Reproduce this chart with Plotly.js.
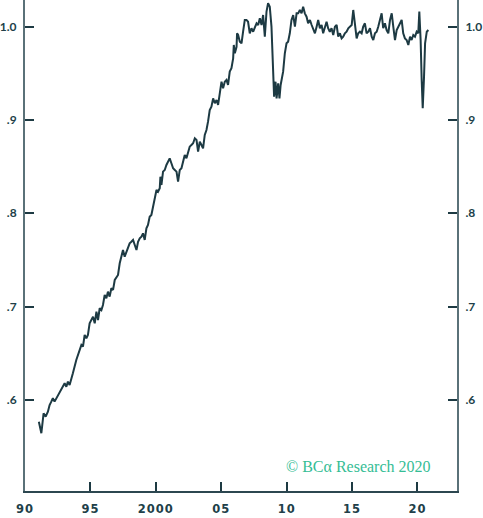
<!DOCTYPE html>
<html>
<head>
<meta charset="utf-8">
<script src="https://cdn.plot.ly/plotly-3.0.1.min.js"></script>
<style>
html,body{margin:0;padding:0;background:#fff;}
#chart{width:483px;height:518px;}
.xtick text{letter-spacing:1px;}
</style>
</head>
<body>
<div id="chart"></div>
<script>
const years = [1991.06,1991.25,1991.42,1991.58,1991.75,1991.88,1992.01,1992.13,1992.26,1992.52,1992.65,1992.78,1992.90,1993.03,1993.16,1993.28,1993.41,1993.54,1993.66,1993.92,1994.05,1994.18,1994.31,1994.43,1994.56,1994.69,1994.81,1994.94,1995.07,1995.20,1995.33,1995.46,1995.58,1995.71,1995.84,1995.96,1996.09,1996.22,1996.34,1996.47,1996.60,1996.73,1996.86,1996.99,1997.11,1997.24,1997.37,1997.49,1997.62,1997.75,1997.87,1998.00,1998.13,1998.26,1998.39,1998.52,1998.64,1998.77,1998.90,1999.02,1999.15,1999.28,1999.40,1999.53,1999.66,1999.79,1999.92,2000.05,2000.17,2000.30,2000.35,2000.43,2000.55,2000.68,2000.81,2000.93,2001.06,2001.19,2001.32,2001.45,2001.58,2001.70,2001.83,2001.96,2002.08,2002.21,2002.34,2002.46,2002.59,2002.72,2002.85,2002.98,2003.11,2003.23,2003.36,2003.49,2003.61,2003.74,2003.87,2003.99,2004.12,2004.25,2004.38,2004.51,2004.64,2004.76,2004.89,2005.02,2005.14,2005.27,2005.40,2005.52,2005.65,2005.78,2005.91,2005.96,2006.04,2006.17,2006.21,2006.29,2006.42,2006.55,2006.67,2006.80,2006.93,2007.05,2007.18,2007.31,2007.44,2007.57,2007.70,2007.82,2007.95,2008.08,2008.20,2008.33,2008.46,2008.58,2008.71,2008.84,2008.97,2009.04,2009.15,2009.23,2009.35,2009.45,2009.54,2009.61,2009.73,2009.86,2009.99,2010.11,2010.24,2010.37,2010.50,2010.63,2010.76,2010.88,2011.01,2011.14,2011.26,2011.39,2011.52,2011.64,2011.78,2011.91,2012.03,2012.16,2012.29,2012.41,2012.54,2012.67,2012.79,2012.92,2013.05,2013.17,2013.30,2013.43,2013.56,2013.69,2013.82,2013.94,2014.07,2014.20,2014.32,2014.45,2014.58,2014.71,2014.84,2014.97,2015.09,2015.22,2015.35,2015.47,2015.60,2015.73,2015.85,2015.98,2016.11,2016.24,2016.37,2016.50,2016.62,2016.75,2016.88,2017.00,2017.13,2017.26,2017.38,2017.51,2017.64,2017.77,2017.90,2018.03,2018.15,2018.28,2018.41,2018.53,2018.66,2018.79,2018.91,2019.04,2019.17,2019.30,2019.43,2019.55,2019.68,2019.81,2019.94,2020.06,2020.14,2020.24,2020.32,2020.40,2020.50,2020.58,2020.71,2020.83];
const values = [0.5766,0.5642,0.5856,0.5820,0.5873,0.5945,0.5981,0.6017,0.5981,0.6052,0.6088,0.6124,0.6160,0.6178,0.6141,0.6195,0.6160,0.6213,0.6285,0.6428,0.6481,0.6535,0.6588,0.6570,0.6695,0.6660,0.6695,0.6821,0.6856,0.6892,0.6821,0.6945,0.6856,0.6982,0.6963,0.7017,0.7124,0.7089,0.7160,0.7106,0.7196,0.7178,0.7285,0.7320,0.7339,0.7464,0.7535,0.7606,0.7535,0.7588,0.7625,0.7678,0.7695,0.7714,0.7660,0.7606,0.7695,0.7732,0.7749,0.7785,0.7714,0.7839,0.7874,0.7963,0.7982,0.8071,0.8161,0.8250,0.8231,0.8268,0.8392,0.8303,0.8446,0.8464,0.8518,0.8553,0.8589,0.8536,0.8482,0.8464,0.8446,0.8339,0.8464,0.8482,0.8553,0.8625,0.8589,0.8660,0.8714,0.8732,0.8750,0.8804,0.8785,0.8660,0.8767,0.8732,0.8696,0.8839,0.8893,0.8982,0.9107,0.9142,0.9232,0.9179,0.9214,0.9161,0.9303,0.9410,0.9340,0.9410,0.9429,0.9375,0.9518,0.9554,0.9661,0.9804,0.9715,0.9785,0.9929,0.9911,0.9839,0.9822,0.9946,1.0072,1.0072,1.0053,0.9929,0.9983,0.9946,1.0000,1.0036,1.0018,1.0090,1.0018,1.0125,0.9893,1.0161,1.0251,1.0214,1.0000,0.9571,0.9250,0.9410,0.9232,0.9393,0.9232,0.9375,0.9429,0.9518,0.9715,0.9822,0.9839,0.9929,1.0072,1.0125,1.0000,1.0143,1.0143,1.0179,1.0143,1.0214,1.0143,1.0107,1.0036,1.0072,1.0018,0.9964,0.9929,1.0000,1.0072,0.9983,1.0018,0.9929,1.0000,1.0053,0.9983,0.9946,0.9983,0.9911,1.0000,1.0018,0.9893,0.9929,0.9875,0.9893,0.9929,0.9946,0.9983,1.0000,1.0018,1.0179,1.0000,0.9875,0.9929,0.9946,0.9929,1.0000,1.0036,0.9929,0.9946,0.9983,0.9893,0.9857,0.9929,0.9946,1.0000,1.0072,1.0143,0.9983,1.0036,0.9964,0.9929,1.0072,1.0143,1.0000,0.9857,0.9964,1.0000,1.0036,1.0072,0.9929,0.9875,0.9857,0.9804,0.9893,0.9857,0.9911,0.9893,0.9946,0.9929,1.0161,0.9857,0.9429,0.9125,0.9464,0.9822,0.9946,0.9964];

const xTickVals = [1990,1995,2000,2005,2010,2015,2020];
const xTickText = ['90','95','2000','05','10','15','20'];
const yTickVals = [0.6,0.7,0.8,0.9,1.0];
const yTickText = ['.6','.7','.8','.9','1.0'];

const lineColor = '#1d3a43';
const xLabelFont = {family:'"DejaVu Sans", sans-serif', size:11.5, color:'#213f49', weight:700};
const yLabelFont = {family:'Lato, sans-serif', size:12, color:'#213f49', weight:700};

const traces = [
  {x: years, y: values, type:'scatter', mode:'lines', line:{color:lineColor, width:2}, hoverinfo:'skip', showlegend:false},
  {x: [null], y: [null], type:'scatter', mode:'lines', yaxis:'y2', hoverinfo:'skip', showlegend:false}
];

const yRange = [0.5023, 1.0286];
const layout = {
  width:483, height:518,
  margin:{l:25, r:26, t:0, b:27, pad:0},
  paper_bgcolor:'#ffffff', plot_bgcolor:'#ffffff',
  showlegend:false,
  xaxis:{
    range:[1990, 2023.02], showgrid:false, zeroline:false,
    showline:true, linecolor:'#2c4750', linewidth:2,
    ticks:'inside', ticklen:9, tickwidth:2, tickcolor:'#1d3a43',
    tickvals:xTickVals, ticktext:xTickText, tickfont:xLabelFont,
    ticklabelstandoff:6
  },
  yaxis:{
    range:yRange, showgrid:false, zeroline:false,
    showline:true, linecolor:'#5a7178', linewidth:2,
    ticks:'inside', ticklen:9, tickwidth:2, tickcolor:'#1d3a43',
    tickvals:yTickVals, ticktext:yTickText, tickfont:yLabelFont,
    ticklabelstandoff:4
  },
  yaxis2:{
    range:yRange, overlaying:'y', side:'right', showgrid:false, zeroline:false,
    showline:true, linecolor:'#5a7178', linewidth:2,
    ticks:'inside', ticklen:9, tickwidth:2, tickcolor:'#1d3a43',
    tickvals:yTickVals, ticktext:yTickText, tickfont:yLabelFont,
    ticklabelstandoff:4
  },
  annotations:[{
    text:'© BCα Research 2020', xref:'paper', yref:'paper',
    x:(433-25)/432, y:(518-27-466)/491, xanchor:'right', yanchor:'middle',
    showarrow:false, font:{family:'"Liberation Serif", serif', size:16, color:'#35bd95'}
  }]
};

Plotly.newPlot('chart', traces, layout, {displayModeBar:false, staticPlot:true});
</script>
</body>
</html>
